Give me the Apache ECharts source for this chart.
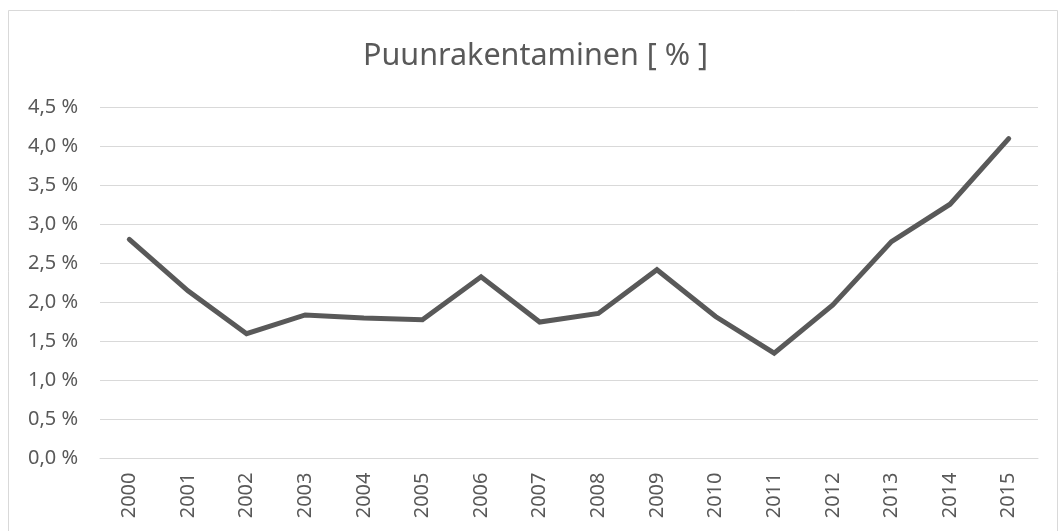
<!DOCTYPE html>
<html>
<head>
<meta charset="utf-8">
<script src="https://cdn.jsdelivr.net/npm/echarts@6/dist/echarts.min.js"></script>
<style>
html,body{margin:0;padding:0;background:#fff;}
#chart{width:1059px;height:531px;}
</style>
</head>
<body>
<div id="chart"></div>
<script>
const titleText = 'Puunrakentaminen [ % ]';
const years = ['2000','2001','2002','2003','2004','2005','2006','2007','2008','2009','2010','2011','2012','2013','2014','2015'];
const values = [2.81, 2.15, 1.60, 1.84, 1.80, 1.78, 2.33, 1.75, 1.86, 2.42, 1.82, 1.35, 1.97, 2.78, 3.26, 4.10];
const yMin = 0, yMax = 4.5, yStep = 0.5;

const FONT = '"Noto Sans", sans-serif';
const chart = echarts.init(document.getElementById('chart'), null, {renderer:'canvas'});
chart.setOption({
  animation: false,
  backgroundColor: '#ffffff',
  title: {
    text: titleText,
    left: 358,
    top: 36,
    textStyle: {fontFamily: FONT, fontSize: 30.5, fontWeight: 'normal', color: '#595959'}
  },
  graphic: [{
    type: 'rect',
    shape: {x: 8.5, y: 10.5, width: 1049, height: 560},
    style: {fill: 'none', stroke: '#d9d9d9', lineWidth: 1},
    silent: true
  }],
  grid: {left: 100, right: 21, top: 107.5, bottom: 72.5, containLabel: false},
  xAxis: {
    type: 'category',
    data: years,
    boundaryGap: true,
    axisLine: {show: true, lineStyle: {color: '#d9d9d9', width: 1}},
    axisTick: {show: false},
    axisLabel: {rotate: 90, margin: 14, fontFamily: FONT, fontSize: 20, color: '#595959'}
  },
  yAxis: {
    type: 'value',
    min: yMin, max: yMax, interval: yStep,
    axisLine: {show: false},
    axisTick: {show: false},
    splitLine: {lineStyle: {color: '#d9d9d9', width: 1}},
    axisLabel: {
      margin: 22, fontFamily: FONT, fontSize: 20, color: '#595959',
      formatter: v => v.toFixed(1).replace('.', ',') + ' %'
    }
  },
  series: [{
    type: 'line',
    data: values,
    symbol: 'none',
    lineStyle: {color: '#595959', width: 5, cap: 'round', join: 'miter'},
    itemStyle: {color: '#595959'}
  }]
});
</script>
</body>
</html>
